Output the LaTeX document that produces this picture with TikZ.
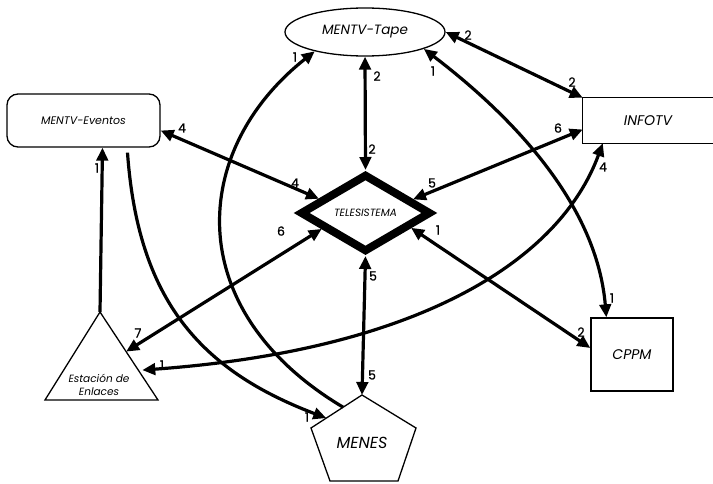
\documentclass[tikz,border=0pt]{standalone}
\usepackage{fontspec}
\setmainfont{Poppins}
\newfontfamily\labfont{Poppins}[FakeBold=0.6]
\usetikzlibrary{arrows.meta,shapes.geometric,calc}
\begin{document}
\begin{tikzpicture}[x=1pt,y=-1pt,
  box/.style={draw,line width=1.3pt,inner sep=0pt,font=\itshape},
  lab/.style={inner sep=0pt,font=\labfont\fontsize{12.5}{12.5}\selectfont},
  sarr/.style={line width=3.2pt,-{Triangle[length=13pt,width=11.5pt]}},
  darr/.style={line width=3.2pt,{Triangle[length=13pt,width=11.5pt]}-{Triangle[length=13pt,width=11.5pt]}}]
\useasboundingbox (0,0) rectangle (713,484);
% nodes
\node[box,ellipse,minimum width=160pt,minimum height=48pt,font=\itshape\fontsize{13.5}{13.5}\selectfont] (tape) at (365,32) {MENTV-Tape};
\node[box,rectangle,rounded corners=11pt,minimum width=153pt,minimum height=53pt,font=\itshape\fontsize{11}{11}\selectfont] (ev) at (83.5,120.5) {MENTV-Eventos};
\node[inner sep=0pt,minimum width=130pt,minimum height=45pt,font=\itshape\fontsize{14}{14}\selectfont] (info) at (648,120.5) {INFOTV};
\draw[line width=1.3pt] ([xshift=12pt]info.north east) -- (info.north west) -- (info.south west) -- ([xshift=12pt]info.south east);
\node[draw,diamond,line width=8pt,minimum width=131pt,minimum height=78pt,inner sep=0pt,aspect=1.7,font=\itshape\fontsize{10.5}{10.5}\selectfont] (tel) at (365.5,213) {TELESISTEMA};
\node[box,rectangle,minimum width=82pt,minimum height=73pt,font=\itshape\fontsize{14}{14}\selectfont] (cppm) at (632,354.5) {CPPM};
% triangle
\coordinate (estA) at (100,312);
\coordinate (estL) at (45,400);
\coordinate (estR) at (158,400);
\draw[line width=1.3pt] (estA) -- (estL) -- (estR) -- cycle;
\node[inner sep=0pt,align=center,font=\itshape\fontsize{10.5}{13}\selectfont] (est) at (99,385) {Estación de\\Enlaces};
% pentagon
\coordinate (mtop) at (362,395);
\coordinate (mleft) at (311,428);
\coordinate (mright) at (416,428);
\coordinate (mbl) at (330,481);
\coordinate (mbr) at (398,481);
\draw[line width=1.3pt] (mtop) -- (mright) -- (mbr) -- (mbl) -- (mleft) -- cycle;
\node[inner sep=0pt,font=\itshape\fontsize{16}{16}\selectfont] (men) at (362,443) {MENES};
% helper coordinates
\coordinate (est7) at ($(estA)!0.45!(estR)$);
\coordinate (est1) at ($(estA)!0.66!(estR)+(4,0)$);
\coordinate (men1) at ($(mtop)!0.7!(mleft)$);
\coordinate (menS) at ($(mtop)!0.37!(mleft)$);
% straight connectors
\draw[darr] (tape.south) -- (tel.north);
\draw[darr] (tape.east) -- (info.north west);
\draw[darr] ([yshift=-10pt]ev.east) -- (tel.163);
\draw[darr] ([yshift=-9pt]info.west) -- (tel.16);
\draw[darr] (tel.200) -- (est7);
\draw[darr] (tel.south) -- (mtop);
\draw[darr] (tel.342) -- ([yshift=6.5pt]cppm.west);
\draw[sarr] (estA) -- ([xshift=19pt]ev.south);
% curved connectors
\draw[sarr] ([xshift=44pt,yshift=-5pt]ev.south) .. controls (138,300) and (200,370) .. (men1);
\draw[sarr] (menS) .. controls (180,310) and (190,150) .. (tape.201);
\draw[darr] (tape.344) .. controls (517,120) and (597,207) .. ([xshift=16pt]cppm.north west);
\draw[darr] ([xshift=20pt]info.south west) .. controls (560,260) and (420,350) .. (est1);
% labels
\node[lab] (l1) at (377,76) {2};
\node[lab] (l2) at (372,149) {2};
\node[lab] (l3) at (468,35) {2};
\node[lab] (l4) at (433,71) {1};
\node[lab] (l5) at (295,57) {1};
\node[lab] (l6) at (295,183) {4};
\node[lab] (l7) at (432,183) {5};
\node[lab] (l8) at (572,82) {2};
\node[lab] (l9) at (558,128) {6};
\node[lab] (l10) at (603,167) {4};
\node[lab] (l11) at (182,128) {4};
\node[lab] (l12) at (97,168) {1};
\node[lab] (l13) at (281,231) {6};
\node[lab] (l14) at (438,230) {1};
\node[lab] (l15) at (373,276) {5};
\node[lab] (l16) at (138,333) {7};
\node[lab] (l17) at (162,365) {1};
\node[lab] (l18) at (372,375) {5};
\node[lab] (l19) at (307,417) {1};
\node[lab] (l20) at (612,298) {1};
\node[lab] (l21) at (581,332) {2};
\end{tikzpicture}
\end{document}
